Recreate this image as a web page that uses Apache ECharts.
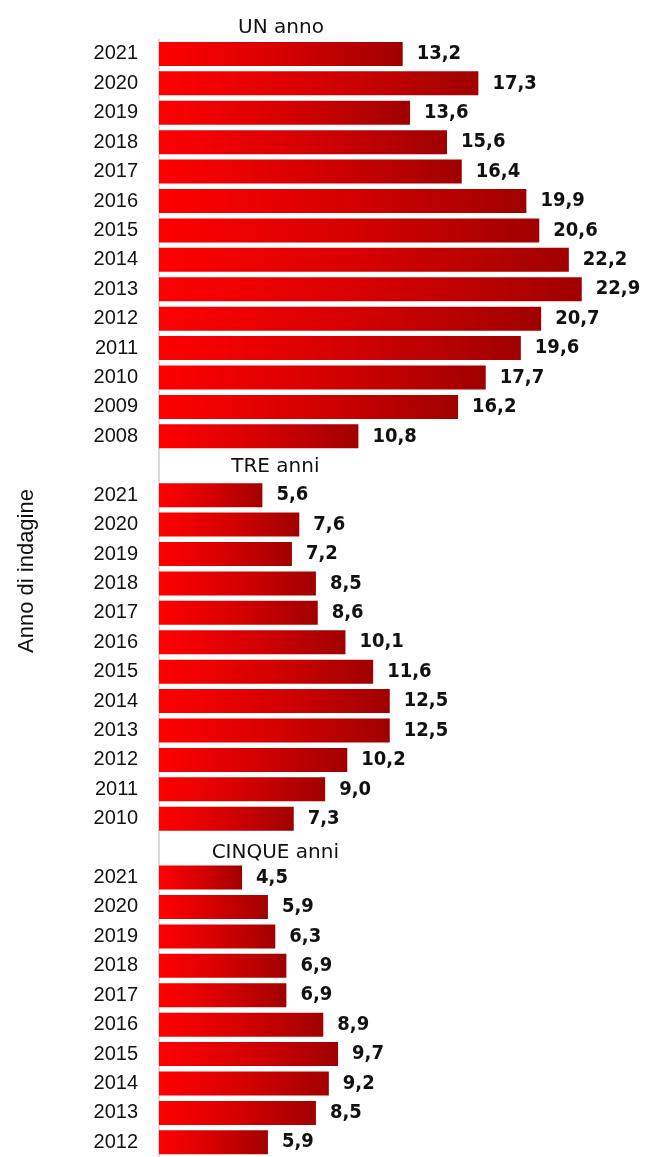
<!DOCTYPE html>
<html>
<head>
<meta charset="utf-8">
<script src="https://cdn.jsdelivr.net/npm/echarts@6/dist/echarts.min.js"></script>
<style>
html,body{margin:0;padding:0;background:#fff;}
#chart{width:645px;height:1157px;}
</style>
</head>
<body>
<div id="chart"></div>
<script>
// ---- DATA ----
const groupNames = ['UN anno', 'TRE anni', 'CINQUE anni'];
const yearsUN = ['2021','2020','2019','2018','2017','2016','2015','2014','2013','2012','2011','2010','2009','2008'];
const valuesUN = [13.2,17.3,13.6,15.6,16.4,19.9,20.6,22.2,22.9,20.7,19.6,17.7,16.2,10.8];
const yearsTRE = ['2021','2020','2019','2018','2017','2016','2015','2014','2013','2012','2011','2010'];
const valuesTRE = [5.6,7.6,7.2,8.5,8.6,10.1,11.6,12.5,12.5,10.2,9.0,7.3];
const yearsCINQUE = ['2021','2020','2019','2018','2017','2016','2015','2014','2013','2012'];
const valuesCINQUE = [4.5,5.9,6.3,6.9,6.9,8.9,9.7,9.2,8.5,5.9];
const axisName = 'Anno di indagine';

// ---- BUILD ----
const groups = [
  {name: groupNames[0], years: yearsUN, values: valuesUN},
  {name: groupNames[1], years: yearsTRE, values: valuesTRE},
  {name: groupNames[2], years: yearsCINQUE, values: valuesCINQUE}
];
const TITLE_X = 6.3; // style: horizontal center of in-plot group titles (in axis units)
const TITLE_FONT = 'normal 20px "DejaVu Sans"';
const categories = [];
const barData = [];
const titleData = [];
groups.forEach((g, gi) => {
  if (gi > 0) {
    const key = gi + '|title';
    categories.push(key);
    barData.push('-');
    titleData.push({value: [TITLE_X, key, gi === 2 ? 5 : 1], name: g.name});
  }
  g.years.forEach((y, i) => {
    categories.push(gi + '|' + y);
    barData.push(g.values[i]);
  });
});

const chart = echarts.init(document.getElementById('chart'), null, {renderer: 'canvas'});
const grad = new echarts.graphic.LinearGradient(0, 0, 1, 0, [
  {offset: 0, color: '#ff0000'},
  {offset: 0.5, color: '#d60000'},
  {offset: 1, color: '#a00000'}
]);
chart.setOption({
  animation: false,
  backgroundColor: '#ffffff',
  title: {
    text: groupNames[0],
    left: 276, top: 13, textAlign: 'center',
    textStyle: {fontFamily: 'DejaVu Sans', fontSize: 20, fontWeight: 'normal', color: '#111'}
  },
  graphic: [{
    type: 'text', x: 27, y: 571, rotation: Math.PI / 2,
    style: {text: axisName, fontFamily: 'Liberation Sans', fontSize: 22, fill: '#111',
      textAlign: 'center', textVerticalAlign: 'middle'}
  }],
  grid: {left: 159, top: 39.25, width: 480, height: 1121, containLabel: false},
  xAxis: {type: 'value', min: 0, max: 26, show: false},
  yAxis: {
    type: 'category', inverse: true, data: categories,
    axisLine: {show: true, lineStyle: {color: '#d9d9d9', width: 2}},
    axisTick: {show: false},
    axisLabel: {
      margin: 21, fontFamily: 'Liberation Sans', fontSize: 20, color: '#111',
      formatter: v => { const y = v.split('|')[1]; return y === 'title' ? '' : y; }
    },
    splitLine: {show: false}
  },
  series: [{
    type: 'bar', data: barData, barWidth: 24,
    itemStyle: {color: grad},
    label: {
      show: true, position: 'right', distance: 14,
      fontFamily: 'DejaVu Sans Condensed', fontWeight: 'bold', fontSize: 20, color: '#111',
      formatter: p => p.value.toFixed(1).replace('.', ',')
    }
  }, {
    type: 'custom', data: titleData, silent: true,
    encode: {x: 0, y: 1},
    renderItem: (params, api) => {
      const pt = api.coord([api.value(0), api.value(1)]);
      return {
        type: 'text', x: pt[0], y: pt[1] + api.value(2),
        style: {text: titleData[params.dataIndex].name, font: TITLE_FONT, fill: '#111',
          align: 'center', verticalAlign: 'middle'}
      };
    }
  }]
});
</script>
</body>
</html>
